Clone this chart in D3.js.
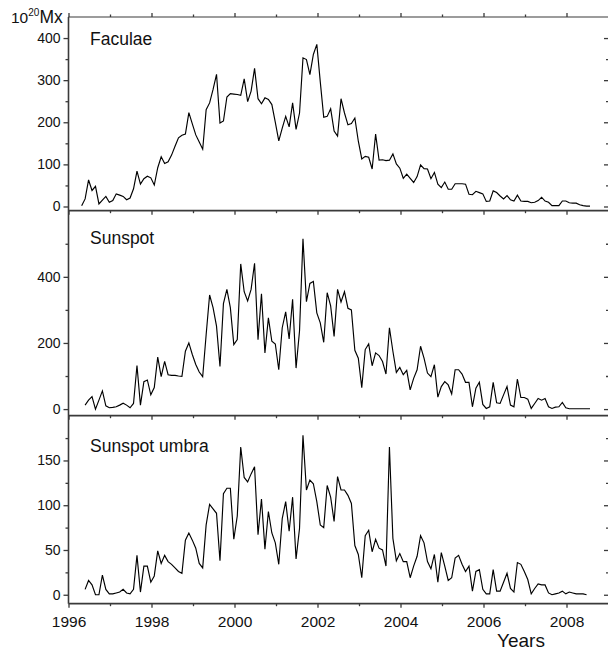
<!DOCTYPE html>
<html>
<head>
<meta charset="utf-8">
<script src="https://cdn.jsdelivr.net/npm/d3@7"></script>
<style>
  html, body { margin: 0; padding: 0; background: #fff; }
  svg { display: block; font-family: "Liberation Sans", Arial, sans-serif; }
</style>
</head>
<body>
<svg id="chart" width="608" height="651"></svg>
<script>
// ---------------- data (monthly values, 10^20 Mx) ----------------
const faculaeStart = 1996.317;   // decimal year of first monthly value
const sunspotStart = 1996.400;
const umbraStart = 1996.400;
const monthStep = 1 / 12;

const faculae = [2, 18, 63, 38, 48, 6, 15, 24, 10, 14, 30, 27, 24, 16, 20, 42, 84, 53, 66, 72,
  68, 51, 92, 118, 102, 106, 122, 143, 163, 169, 172, 223, 196, 170, 153, 136, 230, 246, 278, 314,
  198, 203, 260, 268, 267, 266, 264, 303, 249, 274, 328, 256, 244, 258, 254, 242, 200, 156, 186, 214,
  189, 246, 183, 222, 353, 349, 313, 361, 385, 296, 212, 214, 232, 179, 167, 256, 222, 194, 197, 210,
  155, 113, 119, 117, 89, 172, 110, 111, 109, 110, 125, 101, 91, 67, 77, 67, 57, 71, 99, 90,
  89, 66, 81, 53, 45, 58, 41, 41, 54, 54, 54, 53, 29, 28, 36, 33, 30, 12, 13, 37,
  33, 25, 18, 26, 16, 13, 27, 13, 12, 12, 9, 10, 14, 22, 13, 10, 2, 2, 2, 13,
  13, 9, 8, 8, 4, 2, 1, 1];

const sunspot = [12, 27, 38, 0, 27, 55, 10, 4, 5, 7, 12, 18, 12, 4, 17, 132, 12, 83, 88, 43,
  65, 157, 98, 144, 104, 102, 102, 100, 99, 175, 200, 165, 135, 112, 98, 225, 345, 307, 251, 129,
  319, 362, 307, 195, 210, 439, 355, 327, 362, 441, 210, 349, 170, 276, 205, 197, 119, 246, 294, 212,
  332, 124, 236, 515, 325, 380, 386, 291, 261, 202, 352, 312, 220, 362, 324, 355, 305, 300, 178, 154,
  65, 180, 197, 131, 170, 162, 144, 106, 246, 175, 111, 126, 104, 117, 58, 93, 119, 190, 154, 109,
  98, 134, 36, 68, 83, 73, 46, 119, 119, 106, 81, 81, 7, 63, 81, 14, 2, 7, 81, 19,
  17, 43, 68, 12, 7, 91, 35, 35, 30, 2, 17, 32, 27, 32, 7, 2, 6, 7, 20, 4,
  1, 1, 1, 1, 1, 1, 1];

const umbra = [6, 16, 11, 0, 0, 22, 6, 1, 1, 2, 3, 6, 2, 1, 6, 44, 3, 32, 32, 14,
  21, 49, 35, 44, 37, 34, 30, 26, 24, 61, 69, 61, 52, 35, 30, 78, 101, 96, 91, 38,
  113, 119, 119, 62, 88, 165, 131, 126, 135, 143, 67, 107, 51, 93, 69, 58, 34, 85, 104, 71,
  109, 40, 74, 178, 117, 128, 124, 104, 78, 75, 122, 109, 82, 132, 117, 117, 111, 102, 55, 45,
  19, 66, 72, 48, 62, 52, 50, 32, 165, 63, 38, 46, 37, 37, 19, 32, 43, 66, 58, 37,
  29, 45, 14, 47, 32, 16, 19, 41, 44, 34, 26, 32, 4, 26, 28, 6, 1, 1, 28, 4,
  4, 14, 24, 7, 3, 36, 34, 26, 17, 1, 7, 12, 11, 11, 2, 0, 1, 2, 4, 1,
  3, 2, 1, 1, 1, 0];

const yearDomain = [1996, 2009];
const yearTickLabels = [1996, 1998, 2000, 2002, 2004, 2006, 2008];
const yearMinorTicks = [1997, 1999, 2001, 2003, 2005, 2007];

const panels = [
  { name: "Faculae", values: faculae, start: faculaeStart, domain: [-10, 450],
    major: [0, 100, 200, 300, 400], minor: [50, 150, 250, 350, 450], top: 17, bottom: 210.7, titleY: 45 },
  { name: "Sunspot", values: sunspot, start: sunspotStart, domain: [-20, 600],
    major: [0, 200, 400], minor: [100, 300, 500], top: 210.7, bottom: 415.7, titleY: 244 },
  { name: "Sunspot umbra", values: umbra, start: umbraStart, domain: [-10, 200],
    major: [0, 50, 100, 150], minor: [25, 75, 125, 175], top: 415.7, bottom: 603.7, titleY: 452 }
];

// ---------------- drawing ----------------
const svg = d3.select("#chart");
const left = 68.5, right = 608;
const x = d3.scaleLinear().domain(yearDomain).range([left, right]);
const axisColor = "#3a3a3a";

function styleAxis(g, width) {
  g.select(".domain").remove();
  g.selectAll(".tick line").attr("stroke", axisColor).attr("stroke-width", width || 1.3);
}

panels.forEach((p, i) => {
  const y = d3.scaleLinear().domain(p.domain).range([p.bottom, p.top]);
  const g = svg.append("g");

  const la = g.append("g").attr("transform", `translate(${left},0)`)
    .call(d3.axisLeft(y).tickValues(p.major).tickSize(5).tickPadding(3).tickFormat(d3.format("d")));
  styleAxis(la);
  la.selectAll("text").attr("font-size", 14).attr("fill", "#111")
    .attr("font-family", '"Liberation Sans", Arial, sans-serif');
  const lm = g.append("g").attr("transform", `translate(${left},0)`)
    .call(d3.axisLeft(y).tickValues(p.minor.filter(v => y(v) >= p.top + 1)).tickSize(3).tickFormat(""));
  styleAxis(lm);
  const ra = g.append("g").attr("transform", `translate(${right},0)`)
    .call(d3.axisLeft(y).tickValues(p.major).tickSize(4).tickFormat(""));
  styleAxis(ra);
  const rm = g.append("g").attr("transform", `translate(${right},0)`)
    .call(d3.axisLeft(y).tickValues(p.minor.filter(v => y(v) >= p.top + 1)).tickSize(2).tickFormat(""));
  styleAxis(rm);

  const ba = g.append("g").attr("transform", `translate(0,${p.bottom})`)
    .call(d3.axisBottom(x).tickValues(yearTickLabels).tickSize(4).tickPadding(8)
      .tickFormat(i === panels.length - 1 ? d3.format("d") : ""));
  styleAxis(ba);
  ba.selectAll("text").attr("font-size", 15.5).attr("fill", "#111")
    .attr("font-family", '"Liberation Sans", Arial, sans-serif');
  const bm = g.append("g").attr("transform", `translate(0,${p.bottom})`)
    .call(d3.axisBottom(x).tickValues(yearMinorTicks).tickSize(2.5).tickFormat(""));
  styleAxis(bm);

  if (i === 0) {
    const ta = g.append("g").attr("transform", `translate(0,${p.top})`)
      .call(d3.axisTop(x).tickValues(yearTickLabels).tickSize(4).tickFormat(""));
    styleAxis(ta);
    const tm = g.append("g").attr("transform", `translate(0,${p.top})`)
      .call(d3.axisTop(x).tickValues(yearMinorTicks).tickSize(2.5).tickFormat(""));
    styleAxis(tm);
  }

  const line = d3.line()
    .x((d, j) => x(p.start + j * monthStep))
    .y(d => y(d));
  g.append("path").datum(p.values)
    .attr("fill", "none").attr("stroke", "#000").attr("stroke-width", 1.15)
    .attr("stroke-linejoin", "miter").attr("d", line);

  g.append("text").attr("x", 90).attr("y", p.titleY)
    .attr("font-size", 17.5).attr("fill", "#111").text(p.name);
});

const frame = svg.append("g").attr("stroke", axisColor).attr("fill", "none");
frame.append("line").attr("x1", left).attr("x2", right).attr("y1", 17).attr("y2", 17).attr("stroke-width", 1.2);
panels.forEach(p => {
  frame.append("line").attr("x1", left).attr("x2", right)
    .attr("y1", p.bottom).attr("y2", p.bottom).attr("stroke-width", 1.8);
});
frame.append("line").attr("x1", left).attr("x2", left).attr("y1", 17).attr("y2", 603.7).attr("stroke-width", 1.6);

const unit = svg.append("text").attr("x", 11).attr("y", 23.3).attr("fill", "#111");
unit.append("tspan").attr("font-size", 15.5).text("10");
unit.append("tspan").attr("font-size", 10).attr("dy", -7).text("20");
unit.append("tspan").attr("font-size", 17.5).attr("dy", 7).text("Mx");

svg.append("text").attr("x", 521).attr("y", 647).attr("text-anchor", "middle")
  .attr("font-size", 19).attr("fill", "#111").text("Years");
</script>
</body>
</html>
